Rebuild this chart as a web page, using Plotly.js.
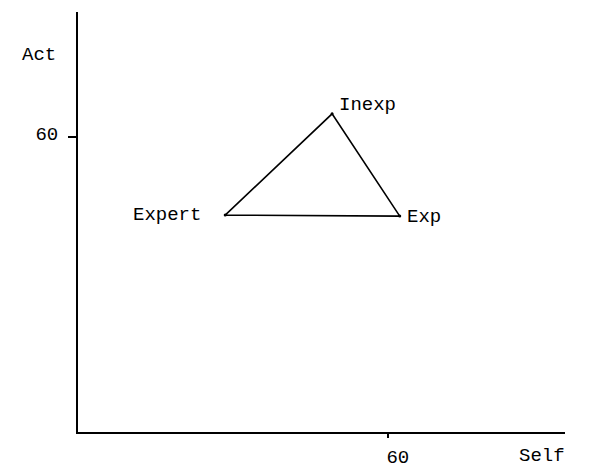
<!DOCTYPE html>
<html>
<head>
<meta charset="utf-8">
<script src="https://cdn.plot.ly/plotly-3.0.1.min.js"></script>
<style>html,body{margin:0;padding:0;background:#fff;}#chart{width:595px;height:470px;}</style>
</head>
<body>
<div id="chart"></div>
<script>
// Data
var groups = ["Expert", "Inexp", "Exp"];
var selfScores = [28.5, 49.2, 62.3];
var actScores = [44.1, 64.7, 43.9];
var xTickVals = [60];
var yTickVals = [60];
var xTitle = "Self";
var yTitle = "Act";

var fontFam = "Liberation Mono, Courier New, monospace";
var fs = 19;

// label placement styles (pixels)
var labelStyle = {
  "Expert": {xanchor: "right", xshift: -22, yshift: 0},
  "Inexp":  {xanchor: "left",  xshift: 5,   yshift: 9},
  "Exp":    {xanchor: "left",  xshift: 5,   yshift: -1}
};

// closed triangle
var tx = selfScores.concat([selfScores[0]]);
var ty = actScores.concat([actScores[0]]);

var traces = [
  {
    x: tx, y: ty, type: "scatter", mode: "lines",
    line: {color: "#000", width: 1.6},
    hoverinfo: "skip", showlegend: false
  },
  {
    x: selfScores, y: actScores, type: "scatter", mode: "markers",
    marker: {color: "#000", size: 3},
    showlegend: false
  }
];

var annotations = groups.map(function (g, i) {
  var s = labelStyle[g];
  return {
    text: g, x: selfScores[i], y: actScores[i], xref: "x", yref: "y",
    xanchor: s.xanchor, yanchor: "middle", xshift: s.xshift, yshift: s.yshift,
    showarrow: false, font: {family: fontFam, size: fs, color: "#000"}
  };
});
annotations.push(
  {text: yTitle, xref: "paper", yref: "paper", x: 0, y: 0.8976,
   xanchor: "right", yanchor: "middle", xshift: -20, showarrow: false,
   font: {family: fontFam, size: fs, color: "#000"}},
  {text: xTitle, xref: "paper", yref: "paper", x: 1.0, y: -0.057,
   xanchor: "center", yanchor: "middle", xshift: -23, showarrow: false,
   font: {family: fontFam, size: fs, color: "#000"}}
);

var layout = {
  width: 595, height: 470,
  margin: {l: 78, r: 30, t: 12, b: 38},
  paper_bgcolor: "#fff", plot_bgcolor: "#fff",
  font: {family: fontFam, size: fs, color: "#000"},
  xaxis: {
    range: [0, 94.3], showgrid: false, zeroline: false,
    showline: true, linecolor: "#000", linewidth: 2,
    ticks: "outside", ticklen: 4, tickwidth: 1.5, tickcolor: "#000",
    tickvals: xTickVals, ticktext: xTickVals.map(String),
    ticklabelshift: 10, ticklabelstandoff: 2,
    tickfont: {family: fontFam, size: fs, color: "#000"},
    fixedrange: true
  },
  yaxis: {
    range: [0, 85.4], showgrid: false, zeroline: false,
    showline: true, linecolor: "#000", linewidth: 2,
    ticks: "outside", ticklen: 8, tickwidth: 1.5, tickcolor: "#000",
    tickvals: yTickVals, ticktext: yTickVals.map(String),
    ticklabelshift: -4, ticklabelstandoff: 6,
    tickfont: {family: fontFam, size: fs, color: "#000"},
    fixedrange: true
  },
  annotations: annotations
};

Plotly.newPlot("chart", traces, layout, {displayModeBar: false, staticPlot: true});
</script>
</body>
</html>
